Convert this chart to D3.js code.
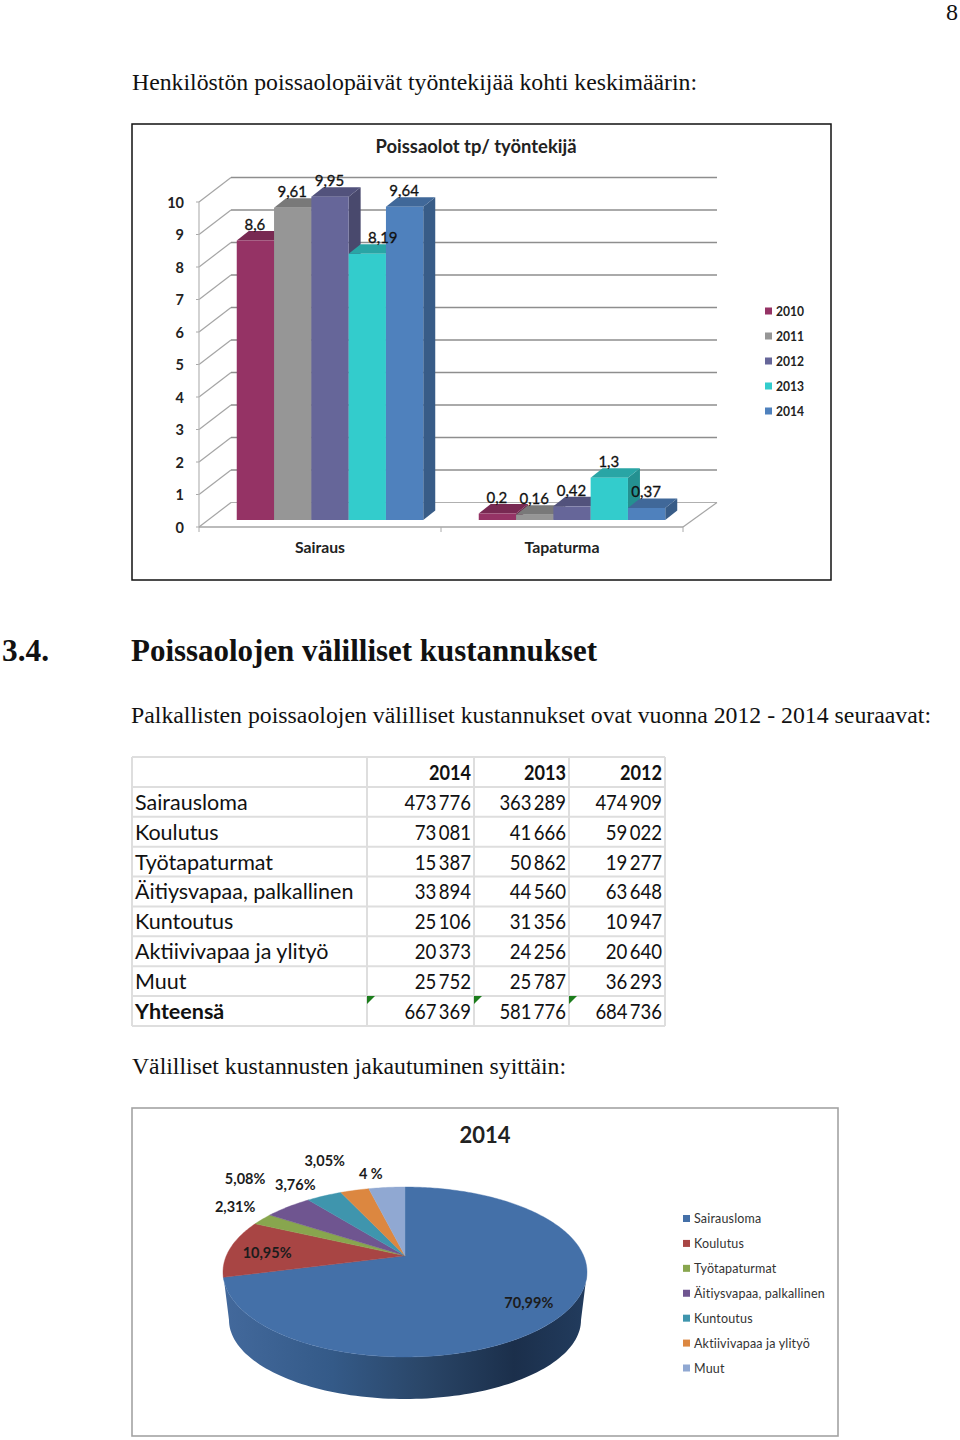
<!DOCTYPE html>
<html><head><meta charset="utf-8">
<script src="https://cdn.jsdelivr.net/npm/d3@7/dist/d3.min.js"></script>
<style>html,body{margin:0;padding:0;background:#fff}svg{display:block}
.serif{font-family:"Liberation Serif",serif;fill:#111}
.sans{font-family:Lato,"Open Sans",sans-serif}</style>
</head><body><svg id="page" width="960" height="1440"></svg>
<script>
// ---- data ----
const barCategories = ["Sairaus", "Tapaturma"];
const barYears = ["2010", "2011", "2012", "2013", "2014"];
const sairausValues = [8.6, 9.61, 9.95, 8.19, 9.64];
const tapaturmaValues = [0.2, 0.16, 0.42, 1.3, 0.37];
const barTicks = [0, 1, 2, 3, 4, 5, 6, 7, 8, 9, 10];
const barColors = ["#953365", "#969696", "#666699", "#33CCCC", "#4F81BD"];

const tableYears = ["2014", "2013", "2012"];
const rowLabels = ["Sairausloma", "Koulutus", "Työtapaturmat", "Äitiysvapaa, palkallinen", "Kuntoutus", "Aktiivivapaa ja ylityö", "Muut", "Yhteensä"];
const col2014 = [473776, 73081, 15387, 33894, 25106, 20373, 25752, 667369];
const col2013 = [363289, 41666, 50862, 44560, 31356, 24256, 25787, 581776];
const col2012 = [474909, 59022, 19277, 63648, 10947, 20640, 36293, 684736];

const pieLabels = ["70,99%", "10,95%", "2,31%", "5,08%", "3,76%", "3,05%", "4 %"];
const pieColors = ["#4470A8", "#A84544", "#88A64E", "#6F5590", "#3F95AD", "#DC8740", "#90A8D2"];

// ---- helpers ----
const svg = d3.select("#page");
function txt(g, s, x, y, o = {}) {
  const t = g.append("text").attr("x", x).attr("y", y).text(s)
    .attr("class", o.cls || "sans")
    .attr("font-size", o.size || 14)
    .attr("font-weight", o.weight || 400)
    .attr("text-anchor", o.anchor || "start")
    .attr("fill", o.fill || null);
  if (o.width) t.attr("textLength", o.width).attr("lengthAdjust", "spacingAndGlyphs");
  return t;
}
const darker = (c, k) => d3.color(c).darker(k).formatHex();

// ---- page text ----
txt(svg, "8", 952, 20, {cls: "serif", size: 24, anchor: "middle"});
txt(svg, "Henkilöstön poissaolopäivät työntekijää kohti keskimäärin:", 132, 90, {cls: "serif", size: 24, width: 565});
txt(svg, "3.4.", 2, 661, {cls: "serif", size: 30.5, weight: 700, width: 47});
txt(svg, "Poissaolojen välilliset kustannukset", 131, 661, {cls: "serif", size: 30.5, weight: 700, width: 466});
txt(svg, "Palkallisten poissaolojen välilliset kustannukset ovat vuonna 2012 - 2014 seuraavat:", 131, 723, {cls: "serif", size: 24, width: 800});
txt(svg, "Välilliset kustannusten jakautuminen syittäin:", 132, 1074, {cls: "serif", size: 24, width: 434});

// ---- 3D column chart ----
const bc = svg.append("g");
bc.append("rect").attr("x", 132).attr("y", 124).attr("width", 699).attr("height", 456)
  .attr("fill", "#fff").attr("stroke", "#111").attr("stroke-width", 1.5);
txt(bc, "Poissaolot tp/ työntekijä", 476, 153, {size: 18, weight: 700, anchor: "middle", fill: "#222", width: 201});

const y = d3.scaleLinear().domain([0, 10]).range([527, 202]);
const x0 = d3.scaleBand().domain(barCategories).range([199, 683]);
const x1 = d3.scaleBand().domain(barYears).range([0, x0.bandwidth()]).paddingInner(0).paddingOuter(0.744);
const wall = {dx: 32, dy: -24.5}, bar = {sx: 10, sy: -7, dx: 12, dy: -9.5};
const gridC = "#8e8e8e";

barTicks.forEach(t => {
  bc.append("line").attr("x1", 199).attr("y1", y(t)).attr("x2", 199 + wall.dx).attr("y2", y(t) + wall.dy)
    .attr("stroke", "#a5a5a5").attr("stroke-width", 1.2);
  bc.append("line").attr("x1", 199 + wall.dx).attr("y1", y(t) + wall.dy).attr("x2", 683 + wall.dx + 2).attr("y2", y(t) + wall.dy)
    .attr("stroke", t === 0 ? "#b0b0b0" : gridC).attr("stroke-width", t === 0 ? 1.2 : 1.5);
  bc.append("line").attr("x1", 196).attr("y1", y(t)).attr("x2", 199).attr("y2", y(t)).attr("stroke", "#aaa");
  txt(bc, String(t), 184, y(t) + 5.5, {size: 14.5, weight: 700, anchor: "end", fill: "#222"});
});
bc.append("line").attr("x1", 199).attr("y1", y(10)).attr("x2", 199).attr("y2", y(0)).attr("stroke", "#b5b5b5").attr("stroke-width", 1.2);
bc.append("line").attr("x1", 199).attr("y1", y(0)).attr("x2", 683).attr("y2", y(0)).attr("stroke", "#a5a5a5").attr("stroke-width", 1.5);
bc.append("line").attr("x1", 683).attr("y1", y(0)).attr("x2", 683 + wall.dx + 2).attr("y2", y(0) + wall.dy).attr("stroke", "#a5a5a5").attr("stroke-width", 1.2);
[199, ...barCategories.map(c => x0(c) + x0.bandwidth())].forEach(px =>
  bc.append("line").attr("x1", px).attr("y1", y(0)).attr("x2", px).attr("y2", y(0) + 5).attr("stroke", "#aaa"));

const seriesByCat = [sairausValues, tapaturmaValues];
const labelShift = {"8.19": 16};
const catWidths = [50, 75];
barCategories.forEach((cat, ci) => {
  txt(bc, cat, x0(cat) + x0.bandwidth() / 2, 553, {size: 14.5, weight: 700, anchor: "middle", fill: "#222", width: catWidths[ci]});
  const g = bc.append("g");
  seriesByCat[ci].forEach((v, i) => {
    const xl = x0(cat) + x1(barYears[i]) + bar.sx, w = x1.bandwidth();
    const top = y(v) + bar.sy, base = y(0) + bar.sy, c = barColors[i];
    g.append("path").attr("fill", darker(c, 0.95))
      .attr("d", d3.line()([[xl + w, top], [xl + w + bar.dx, top + bar.dy], [xl + w + bar.dx, base + bar.dy], [xl + w, base]]) + "Z");
    g.append("path").attr("fill", darker(c, 0.6))
      .attr("d", d3.line()([[xl, top], [xl + bar.dx, top + bar.dy], [xl + w + bar.dx, top + bar.dy], [xl + w, top]]) + "Z");
    g.append("rect").attr("x", xl).attr("y", top).attr("width", w).attr("height", base - top).attr("fill", c);
  });
  seriesByCat[ci].forEach((v, i) => {
    const xl = x0(cat) + x1(barYears[i]) + bar.sx;
    txt(bc, String(v).replace(".", ","), xl + x1.bandwidth() / 2 - 0.5 + (labelShift[v] || 0), y(v) + bar.sy - 10.5,
      {size: 15, weight: 400, anchor: "middle", fill: "#111"}).attr("stroke", "#111").attr("stroke-width", 0.3);
  });
});
const barLegend = d3.scalePoint().domain(barYears).range([311, 411]);
barYears.forEach((yr, i) => {
  bc.append("rect").attr("x", 765).attr("y", barLegend(yr) - 3.5).attr("width", 7).attr("height", 7).attr("fill", barColors[i]);
  txt(bc, yr, 776, barLegend(yr) + 4.5, {size: 12.5, weight: 700, fill: "#222", width: 28});
});

// ---- table ----
const tb = svg.append("g");
const rowY = d3.scaleLinear().domain([0, 9]).range([757, 1026]);
const colEdges = [132, 367, 474, 569, 665];
const nf = d3.formatLocale({decimal: ",", thousands: "\u2009", grouping: [3], currency: ["", ""]}).format(",d");
const lineC = "#dedede";
d3.range(10).forEach(r => tb.append("line").attr("x1", 132).attr("x2", 665).attr("y1", rowY(r)).attr("y2", rowY(r)).attr("stroke", lineC).attr("stroke-width", 2));
colEdges.forEach(e => tb.append("line").attr("x1", e).attr("x2", e).attr("y1", 757).attr("y2", 1026).attr("stroke", lineC).attr("stroke-width", 2));
const tSize = 21.5, numSize = 20.5;
// rendered width of a number: narrow digits plus a thin group gap
const numWidth = s => s.replace(/\D/g, "").length * 10.35 + 4.5;
tableYears.forEach((yr, c) => txt(tb, yr, colEdges[c + 2] - 3, rowY(0) + 22.5, {size: numSize, weight: 700, anchor: "end", fill: "#111", width: 42}));
rowLabels.forEach((lab, r) => {
  const bold = r === rowLabels.length - 1;
  txt(tb, lab, 135, rowY(r + 1) + 22.5 + (r < 3 ? 0.6 : 0), {size: tSize, weight: bold ? 700 : 400, fill: "#111"});
  [col2014, col2013, col2012].forEach((col, c) => {
    const s = nf(col[r]);
    txt(tb, s, colEdges[c + 2] - 3, rowY(r + 1) + 22.5 + (r < 3 ? 0.6 : 0), {size: numSize, anchor: "end", fill: "#111", width: numWidth(s)});
  });
});
colEdges.slice(1, 4).forEach(e => tb.append("path").attr("fill", "#1c7d1c")
  .attr("d", d3.line()([[e, rowY(8)], [e + 8, rowY(8)], [e, rowY(8) + 8]]) + "Z"));

// ---- 3D pie ----
const pc = svg.append("g");
pc.append("rect").attr("x", 132).attr("y", 1108).attr("width", 706).attr("height", 328)
  .attr("fill", "#fff").attr("stroke", "#a3a3a3").attr("stroke-width", 1.6);
txt(pc, "2014", 485, 1143, {size: 22, weight: 700, anchor: "middle", fill: "#222"});

const defs = svg.append("defs");
const grad = defs.append("linearGradient").attr("id", "pieSide").attr("x1", 0).attr("x2", 1).attr("y1", 0).attr("y2", 0);
[[0, "#43699c"], [0.3, "#345a88"], [0.55, "#2a4668"], [0.8, "#1b2f4b"], [1, "#223c5e"]].forEach(([o, c]) =>
  grad.append("stop").attr("offset", o).attr("stop-color", c));

const top3d = {cx: 405, cy: 1272, rx: 182, ry: 85, a: -0.19};
const low3d = {cx: 405, cy: 1320, rx: 176, ry: 79};
// perspective tilt: unit circle maps onto the ellipse with the centre moved to the apex
function proj(theta, r = 1) {
  const u = r * Math.sin(theta), v = -r * Math.cos(theta), a = top3d.a, d = 1 + a * v;
  return [top3d.cx + top3d.rx * Math.sqrt(1 - a * a) * u / d, top3d.cy + top3d.ry * (v + a) / d];
}
const ell = (e, t) => [e.cx + e.rx * Math.cos(t), e.cy + e.ry * Math.sin(t)];
const sideTop = d3.range(0, 1.0001, 0.01).map(f => ell(top3d, Math.PI * f));
const sideLow = d3.range(1, -0.0001, -0.01).map(f => ell(low3d, Math.PI * f));
pc.append("path").attr("fill", "url(#pieSide)").attr("d", d3.line()(sideTop.concat(sideLow)) + "Z");

const pieValues = col2014.slice(0, 7);
const arcs = d3.pie().sort(null)(pieValues);
const apex = proj(0, 0);
arcs.forEach((a, i) => {
  const n = Math.max(4, Math.ceil((a.endAngle - a.startAngle) * 60));
  const rim = d3.range(n + 1).map(k => proj(a.startAngle + (a.endAngle - a.startAngle) * k / n));
  pc.append("path").attr("fill", pieColors[i]).attr("stroke", pieColors[i]).attr("stroke-width", 0.4)
    .attr("d", d3.line()([apex, ...rim]) + "Z");
});
// label offsets from each slice's rim midpoint
const pieLabelOffsets = [[-36, -10], [37, 5], [-27, -12], [-43, -28], [-29, -11], [-30, -29], [-16, -13]];
arcs.forEach((a, i) => {
  const [mx, my] = proj((a.startAngle + a.endAngle) / 2);
  txt(pc, pieLabels[i], mx + pieLabelOffsets[i][0], my + pieLabelOffsets[i][1] + 5, {size: 14.5, weight: 700, anchor: "middle", fill: "#1c1c1c"});
});
const pieLegend = d3.scalePoint().domain(rowLabels.slice(0, 7)).range([1218.5, 1368]);
rowLabels.slice(0, 7).forEach((lab, i) => {
  pc.append("rect").attr("x", 683).attr("y", pieLegend(lab) - 3.5).attr("width", 7).attr("height", 7).attr("fill", pieColors[i]);
  txt(pc, lab, 694, pieLegend(lab) + 4.5, {size: 12.5, fill: "#333"}).attr("letter-spacing", 0.17);
});
</script></body></html>
